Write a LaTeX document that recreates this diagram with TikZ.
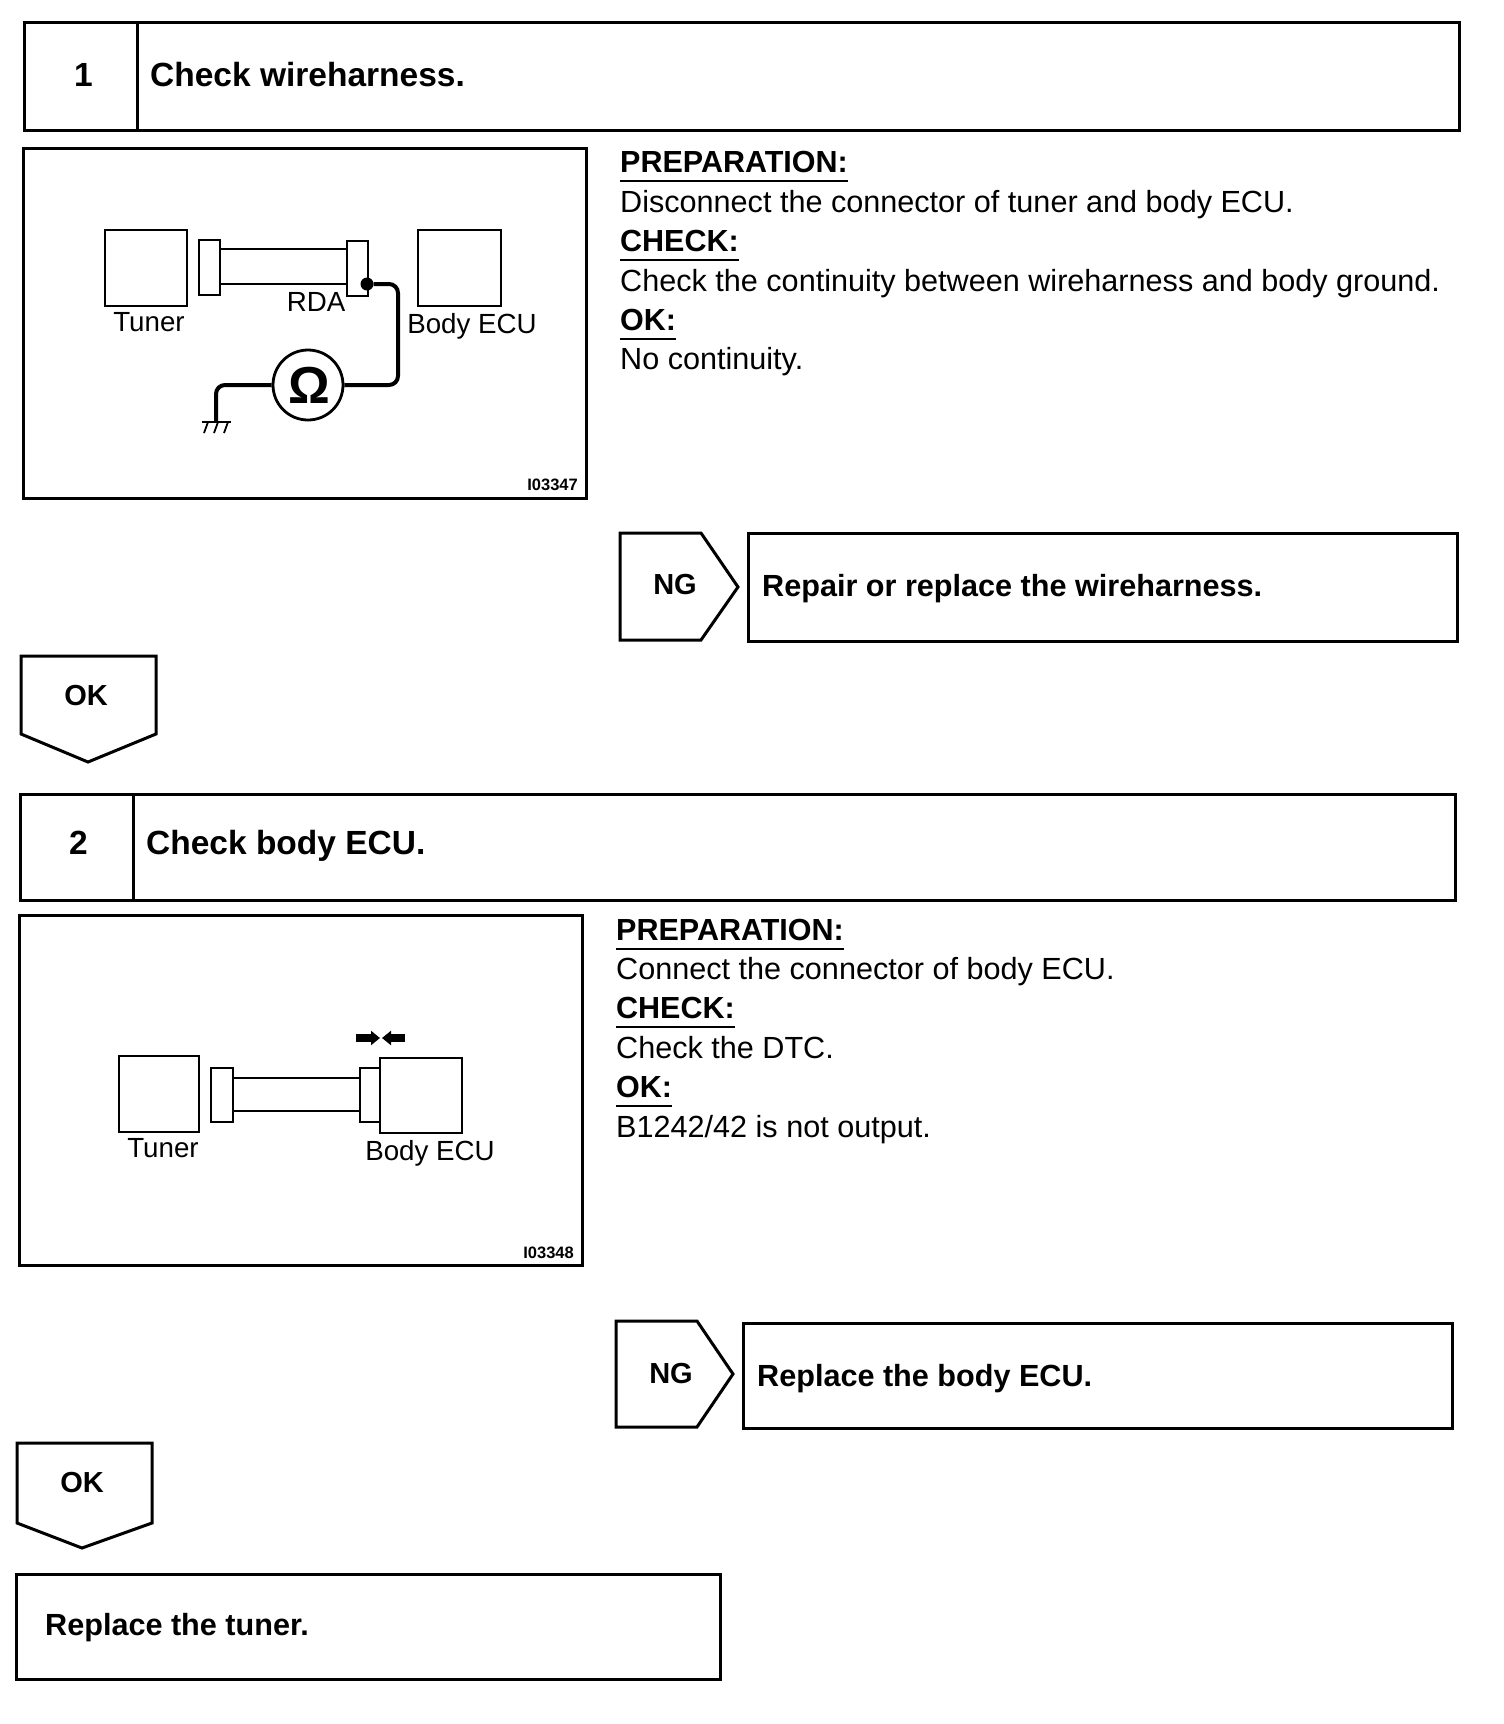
\documentclass[tikz,border=0pt]{standalone}
\usepackage{fontspec}
\setmainfont{Liberation Sans}
\usetikzlibrary{arrows.meta,positioning}
\begin{document}
\begin{tikzpicture}[
  x=1pt, y=-1pt,
  heavy/.style={draw, line width=3pt},
  unitbox/.style={draw, line width=2.4pt, fill=white, inner sep=0pt},
  lead/.style={line width=1.8pt},
  wire/.style={line width=4pt, rounded corners=9pt},
  titletext/.style={font=\fontsize{33.5}{34}\selectfont\bfseries, anchor=base west, inner sep=0pt},
  headtext/.style={font=\fontsize{30.6}{31}\selectfont\bfseries, anchor=base west, inner sep=0pt},
  signtext/.style={font=\fontsize{29}{30}\selectfont\bfseries, inner sep=0pt},
  heading/.style={font=\fontsize{30.5}{31}\selectfont\bfseries, anchor=base west, inner sep=0pt, text depth=9pt},
  bodytext/.style={font=\fontsize{30.6}{31}\selectfont, anchor=base west, inner sep=0pt},
  partlabel/.style={font=\fontsize{27.7}{28}\selectfont, inner sep=0pt},
  figcode/.style={font=\fontsize{16.5}{17}\selectfont\bfseries, anchor=east, inner sep=0pt},
  rule/.style={line width=1.5pt},
  push/.style={line width=8pt, -{Triangle[length=9pt,width=14pt]}}
]
\useasboundingbox (0,0) rectangle (1504,1724);

% step 1
\draw[heavy] (24,22) rectangle (1459,130);
\draw[heavy] (137,22) -- (137,130);
\node[titletext] (num1) at (74,86) {1};
\node[titletext] (title1) at (150,86) {Check wireharness.};

\draw[heavy] (23,148) rectangle (586,498);
\node[unitbox, minimum width=82pt, minimum height=76pt, anchor=north west] (tuner1) at (104,229) {};
\node[unitbox, minimum width=83pt, minimum height=76pt, anchor=north west] (ecu1) at (417,229) {};
\node[unitbox, minimum width=21pt, minimum height=55pt, anchor=north west] (conl1) at (198,239) {};
\node[unitbox, minimum width=21pt, minimum height=55pt, anchor=north west] (conr1) at (346,240) {};
\coordinate (a1) at (conl1.east |- 0,249);
\coordinate (b1) at (conl1.east |- 0,284);
\draw[lead] (a1) -- (a1 -| conr1.west);
\draw[lead] (b1) -- (b1 -| conr1.west);
\node[partlabel] (ltuner1) at (149,322) {Tuner};
\node[partlabel] (lrda) at (316,302) {RDA};
\node[partlabel] (lecu1) at (472,326) {Body ECU};
\node[circle, draw, line width=2.8pt, minimum size=70pt, inner sep=0pt] (ohm) at (308,385)
  {\raisebox{-4pt}{\kern3pt\fontsize{52}{52}\selectfont\bfseries Ω}};
\node[circle, fill=black, minimum size=13pt, inner sep=0pt] (tap) at (367,284) {};
\coordinate (bend1) at (398,284);
\coordinate (bend2) at (398,385);
\coordinate (bend3) at (216,385);
\coordinate (gnd) at (216,422);
\draw[wire] (tap) -- (bend1) -- (bend2) -- (ohm);
\draw[wire] (ohm) -- (bend3) -- (gnd);
\draw[lead] (202,422) -- (231,422);
\foreach \gx in {208,218,228} {
  \draw[lead] (\gx,422) -- ++(-4,11);
}
\node[figcode] (code1) at (578,485) {I03347};

\node[heading] (prep1) at (620,172) {PREPARATION:};
\node[bodytext] (txt1a) at (620,212) {Disconnect the connector of tuner and body ECU.};
\node[heading] (chk1) at (620,251) {CHECK:};
\node[bodytext] (txt1b) at (620,291) {Check the continuity between wireharness and body ground.};
\node[heading] (ok1) at (620,330) {OK:};
\node[bodytext] (txt1c) at (620,369) {No continuity.};
\draw[rule] (prep1.south west) -- (prep1.south east);
\draw[rule] (chk1.south west) -- (chk1.south east);
\draw[rule] (ok1.south west) -- (ok1.south east);

\draw[heavy, line join=miter] (620,533) -- (701,533) -- (738,587) -- (701,640) -- (620,640) -- cycle;
\node[signtext] (ng1) at (675,585) {NG};
\draw[heavy] (748,533) rectangle (1457,641);
\node[headtext] (fix1) at (762,596) {Repair or replace the wireharness.};

\draw[heavy] (21,656) -- (156,656) -- (156,734) -- (88,762) -- (21,734) -- cycle;
\node[signtext] (pass1) at (86,696) {OK};

% step 2
\draw[heavy] (20,794) rectangle (1455,900);
\draw[heavy] (133,794) -- (133,900);
\node[titletext] (num2) at (69,854) {2};
\node[titletext] (title2) at (146,854) {Check body ECU.};

\draw[heavy] (19,915) rectangle (582,1265);
\node[unitbox, minimum width=80pt, minimum height=76pt, anchor=north west] (tuner2) at (118,1055) {};
\node[unitbox, minimum width=22pt, minimum height=54pt, anchor=north west] (conl2) at (210,1067) {};
\node[unitbox, minimum width=21pt, minimum height=54pt, anchor=north west] (conr2) at (359,1067) {};
\node[unitbox, minimum width=82pt, minimum height=75pt, anchor=north west] (ecu2) at (379,1057) {};
\coordinate (a2) at (conl2.east |- 0,1078);
\coordinate (b2) at (conl2.east |- 0,1111);
\draw[lead] (a2) -- (a2 -| conr2.west);
\draw[lead] (b2) -- (b2 -| conr2.west);
\coordinate (pl) at (356,1038);
\coordinate (pr) at (405,1038);
\coordinate (pl2) at (380,1038);
\coordinate (pr2) at (382,1038);
\draw[push] (pl) -- (pl2);
\draw[push] (pr) -- (pr2);
\node[partlabel] (ltuner2) at (163,1148) {Tuner};
\node[partlabel] (lecu2) at (430,1153) {Body ECU};
\node[figcode] (code2) at (574,1253) {I03348};

\node[heading] (prep2) at (616,940) {PREPARATION:};
\node[bodytext] (txt2a) at (616,979) {Connect the connector of body ECU.};
\node[heading] (chk2) at (616,1018) {CHECK:};
\node[bodytext] (txt2b) at (616,1058) {Check the DTC.};
\node[heading] (ok2) at (616,1097) {OK:};
\node[bodytext] (txt2c) at (616,1137) {B1242/42 is not output.};
\draw[rule] (prep2.south west) -- (prep2.south east);
\draw[rule] (chk2.south west) -- (chk2.south east);
\draw[rule] (ok2.south west) -- (ok2.south east);

\draw[heavy, line join=miter] (616,1321) -- (697,1321) -- (733,1374) -- (697,1427) -- (616,1427) -- cycle;
\node[signtext] (ng2) at (671,1373) {NG};
\draw[heavy] (743,1323) rectangle (1452,1428);
\node[headtext] (fix2) at (757,1386) {Replace the body ECU.};

\draw[heavy] (17,1443) -- (152,1443) -- (152,1523) -- (82,1548) -- (17,1523) -- cycle;
\node[signtext] (pass2) at (82,1482) {OK};

\draw[heavy] (16,1574) rectangle (720,1679);
\node[headtext] (fix3) at (45,1635) {Replace the tuner.};
\end{tikzpicture}
\end{document}
